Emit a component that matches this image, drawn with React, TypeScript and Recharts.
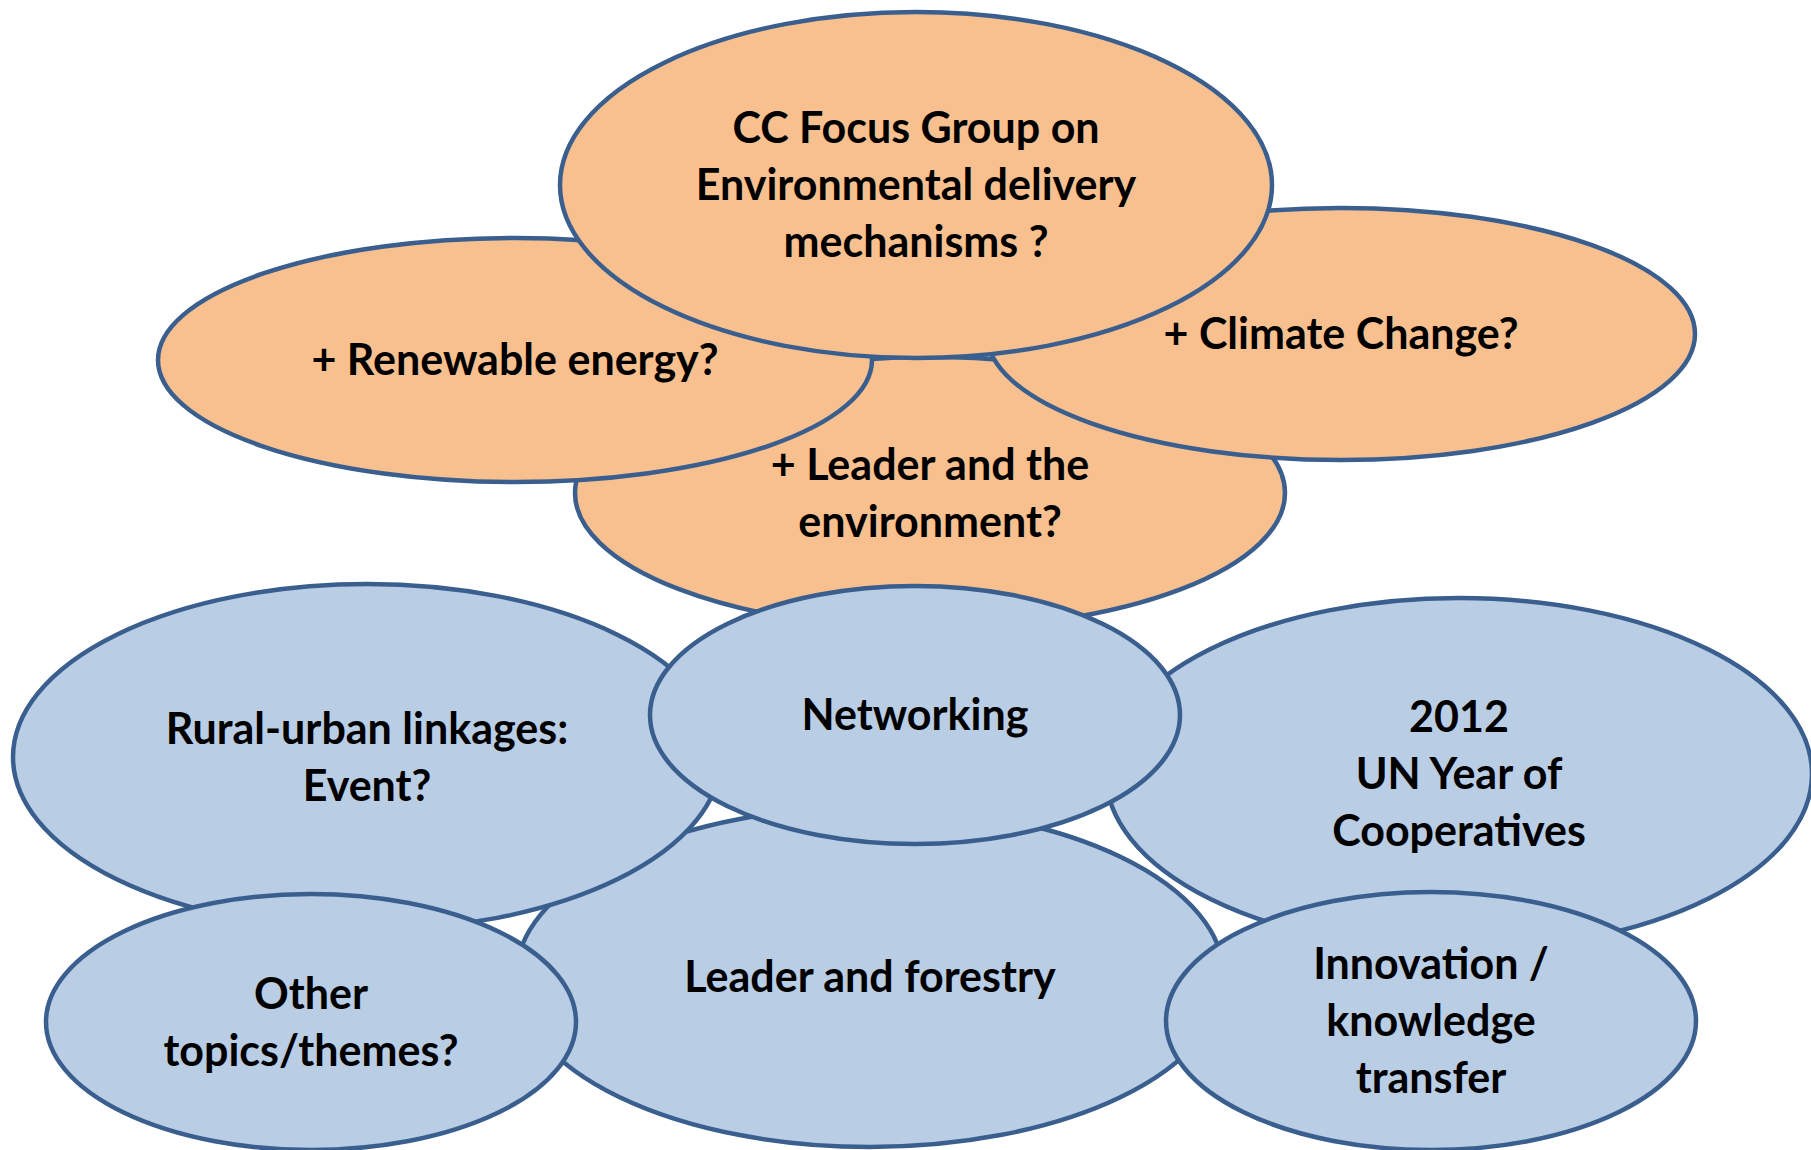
import { Scatter, ScatterChart, XAxis, YAxis } from "recharts";

// diagram units == reference pixels
const W = 1811;
const H = 1150;

// orange group, back to front
const orangeLabels = [
	"+ Leader and the\nenvironment?",
	"+ Renewable energy?",
	"+ Climate Change?",
	"CC Focus Group on\nEnvironmental delivery\nmechanisms ?",
];
const orangeX = [930, 515, 1341, 916];
const orangeY = [493, 360, 334, 185];
const orangeRx = [355, 357, 354, 356];
const orangeRy = [136, 122, 126, 173];

// blue group, back to front
const blueLabels = [
	"Leader and forestry",
	"2012\nUN Year of\nCooperatives",
	"Rural-urban linkages:\nEvent?",
	"Networking",
	"Other\ntopics/themes?",
	"Innovation /\nknowledge\ntransfer",
];
const blueX = [870, 1459, 367, 915, 311, 1431];
const blueY = [977, 774, 757, 715, 1022, 1021];
const blueRx = [354, 353, 354, 265, 265, 265];
const blueRy = [170, 176, 173, 129, 128, 129];

type Bubble = { name: string; x: number; y: number; rx: number; ry: number };

const toRows = (
	names: string[],
	xs: number[],
	ys: number[],
	rxs: number[],
	rys: number[],
): Bubble[] =>
	names.map((name, i) => ({ name, x: xs[i], y: ys[i], rx: rxs[i], ry: rys[i] }));

const orange = toRows(orangeLabels, orangeX, orangeY, orangeRx, orangeRy);
const blue = toRows(blueLabels, blueX, blueY, blueRx, blueRy);

const outline = "#3A5F8E";
const lineHeight = 57;

const bubbleShape = (fill: string) => (props: any) => {
	const { cx, cy, payload } = props;
	const d = payload as Bubble;
	const lines = d.name.split("\n");
	const top = cy - ((lines.length - 1) * lineHeight) / 2;
	return (
		<g>
			<ellipse
				cx={cx}
				cy={cy}
				rx={d.rx}
				ry={d.ry}
				fill={fill}
				stroke={outline}
				strokeWidth={4.5}
			/>
			<text
				textAnchor="middle"
				fontFamily="Lato, 'Open Sans', sans-serif"
				fontWeight={700}
				fontSize={43}
				fill="#000"
			>
				{lines.map((l, i) => (
					<tspan key={i} x={cx} y={top + i * lineHeight} dy="0.36em">
						{l}
					</tspan>
				))}
			</text>
		</g>
	);
};

export default function App() {
	return (
		<div style={{ position: "absolute", left: 0, top: 0, width: W, height: H, background: "#fff" }}>
			<ScatterChart width={W} height={H} margin={{ top: 0, right: 0, bottom: 0, left: 0 }}>
				<XAxis type="number" dataKey="x" domain={[0, W]} hide />
				<YAxis type="number" dataKey="y" domain={[0, H]} reversed hide />
				<Scatter data={orange} shape={bubbleShape("#F9C08F")} isAnimationActive={false} />
				<Scatter data={blue} shape={bubbleShape("#B9CDE5")} isAnimationActive={false} />
			</ScatterChart>
		</div>
	);
}
